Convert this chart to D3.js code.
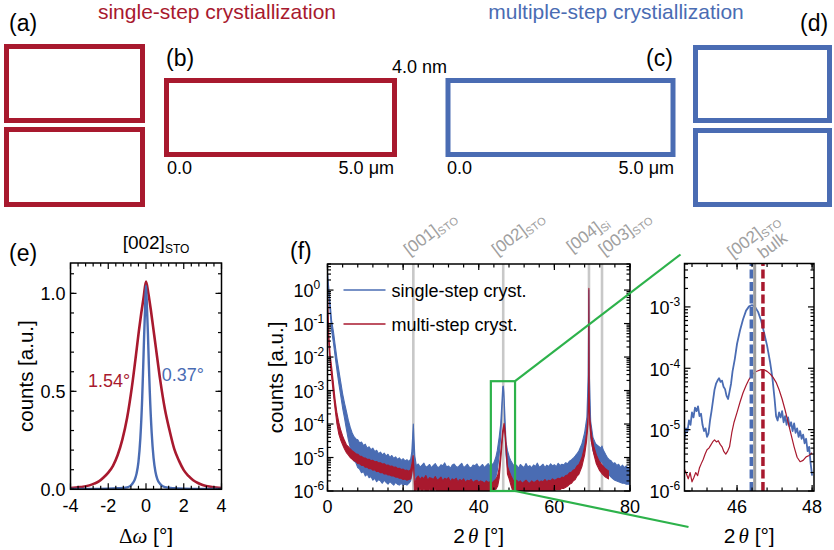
<!DOCTYPE html>
<html><head><meta charset="utf-8">
<script src="https://cdn.jsdelivr.net/npm/d3@7"></script>
<style>
body{margin:0;background:#fff;}
svg{display:block;font-family:"Liberation Sans",Arial,sans-serif;}
</style></head><body>
<svg id="chart" width="834" height="550"></svg>
<script>
// ---------------- DATA ----------------
// (e) rocking curves around [002]STO
const eRedX = [-4,-3.5,-3,-2.75,-2.5,-2.25,-2,-1.75,-1.5,-1.25,-1,-0.75,-0.5,-0.375,-0.25,-0.125,0,0.125,0.25,0.375,0.5,0.75,1,1.25,1.5,1.75,2,2.25,2.5,2.75,3,3.5,4];
const eRed  = [0.006,0.011,0.02,0.029,0.04,0.06,0.085,0.12,0.175,0.255,0.365,0.52,0.71,0.81,0.9,0.98,1.06,1.0,0.92,0.83,0.74,0.56,0.41,0.3,0.205,0.145,0.098,0.068,0.046,0.032,0.022,0.012,0.007];
const eBlueX = [-4,-3,-2,-1.5,-1,-0.75,-0.6,-0.5,-0.4,-0.3,-0.2,-0.15,-0.1,-0.05,0,0.05,0.1,0.15,0.2,0.3,0.4,0.5,0.6,0.75,1,1.5,2,3,4];
const eBlue  = [0.002,0.002,0.003,0.005,0.01,0.025,0.048,0.08,0.14,0.26,0.47,0.62,0.78,0.92,1.04,0.93,0.8,0.64,0.5,0.29,0.16,0.09,0.052,0.027,0.011,0.005,0.003,0.002,0.002];
const eXTicks = [-4,-2,0,2,4];
const eYTicks = [0.0,0.5,1.0];
const eFwhm = ["1.54°","0.37°"];

// (f) 2theta-omega scans: [2theta, lower envelope, upper envelope] of the noisy trace
const fBlue = [
[0.05,2.0,3.0],[0.3,0.9,1.3],[0.7,0.22,0.4],[1.1,0.06,0.12],[1.6,0.025,0.055],[2.0,0.011,0.024],
[2.5,4e-3,9e-3],[3.0,1.6e-3,4e-3],[3.5,7e-4,1.8e-3],[4.0,3e-4,8e-4],[4.5,1.5e-4,4.2e-4],[5.0,7e-5,2.4e-4],
[5.5,3.5e-5,1.3e-4],[6.0,2e-5,8e-5],[6.5,1.2e-5,5.5e-5],[7.0,8e-6,4.2e-5],
[7.5,7e-6,3.6e-5],[8.0,5e-6,3.4e-5],[8.5,4.5e-6,2.7e-5],[9.0,3.5e-6,2.9e-5],[9.5,3.8e-6,2.3e-5],[10.0,2.8e-6,2.5e-5],
[10.5,3.2e-6,1.9e-5],[11.0,2.5e-6,2.1e-5],[11.5,2.7e-6,1.7e-5],[12.0,2.1e-6,1.9e-5],[12.5,2.4e-6,1.5e-5],[13.0,1.9e-6,1.65e-5],
[13.5,2.2e-6,1.3e-5],[14.0,2.0e-6,1.45e-5],[14.5,1.7e-6,1.2e-5],[15.0,2.1e-6,1.35e-5],[15.5,1.8e-6,1.1e-5],[16.0,1.6e-6,1.25e-5],
[16.5,1.9e-6,1.0e-5],[17.0,1.7e-6,1.15e-5],[17.5,1.5e-6,9.4e-6],[18.0,1.8e-6,1.05e-5],[18.5,1.6e-6,8.8e-6],[19.0,1.5e-6,9.8e-6],
[19.5,1.7e-6,8.2e-6],[20.0,1.5e-6,9.2e-6],[20.5,1.6e-6,7.9e-6],[21.0,1.5e-6,8.6e-6],[21.5,1.7e-6,7.6e-6],[22.0,2e-6,9e-6],
[22.3,3e-6,1.5e-5],[22.55,1.5e-5,5e-5],[22.7,8e-5,1.0e-4],[22.85,1.5e-5,4e-5],[23.1,3e-6,1.1e-5],
[23.5,1.6e-6,5.6e-6],[24.0,1.3e-6,6.4e-6],[24.5,1.3e-6,5.2e-6],[25.0,1.3e-6,5.9e-6],[25.5,1.3e-6,6.8e-6],[26.0,1.3e-6,5.1e-6],
[26.5,1.3e-6,5.5e-6],[27.0,1.3e-6,6.2e-6],[27.5,1.3e-6,4.9e-6],[28.0,1.3e-6,5.8e-6],[28.5,1.3e-6,6.6e-6],[29.0,1.3e-6,5.3e-6],
[29.5,1.3e-6,5.0e-6],[30.0,1.3e-6,6.1e-6],[30.5,1.3e-6,5.7e-6],[31.0,1.3e-6,6.9e-6],[31.5,1.3e-6,5.2e-6],[32.0,1.3e-6,5.6e-6],
[32.5,1.3e-6,4.8e-6],[33.0,1.3e-6,6.0e-6],[33.5,1.3e-6,6.4e-6],[34.0,1.3e-6,5.4e-6],[34.5,1.3e-6,5.1e-6],[35.0,1.3e-6,5.9e-6],
[35.5,1.3e-6,6.7e-6],[36.0,1.3e-6,5.0e-6],[36.5,1.3e-6,5.5e-6],[37.0,1.3e-6,6.3e-6],[37.5,1.3e-6,5.2e-6],[38.0,1.3e-6,4.9e-6],
[38.5,1.3e-6,6.0e-6],[39.0,1.3e-6,5.7e-6],[39.5,1.3e-6,6.5e-6],[40.0,1.3e-6,5.1e-6],[40.5,1.3e-6,5.4e-6],[41.0,1.3e-6,6.2e-6],
[41.5,1.3e-6,5.0e-6],[42.0,1.3e-6,5.8e-6],[42.5,1.3e-6,6.6e-6],[43.0,1.3e-6,5.5e-6],[43.5,1.4e-6,6.0e-6],
[44.0,1.5e-6,7e-6],[44.5,2.5e-6,1.0e-5],[44.9,4e-6,1.6e-5],[45.4,1.2e-5,4e-5],
[45.8,4e-5,1e-4],[46.1,2e-4,4e-4],[46.35,9e-4,1.3e-3],[46.5,1.2e-3,1.35e-3],[46.65,6e-4,9e-4],[46.9,8e-5,2e-4],
[47.2,1.2e-5,3e-5],[47.6,5e-6,1.6e-5],[48.1,3e-6,1e-5],[48.5,2.2e-6,8e-6],
[49.0,1.5e-6,6.4e-6],[49.5,1.4e-6,5.3e-6],[50.0,1.4e-6,5.9e-6],[50.5,1.4e-6,4.8e-6],[51.0,1.4e-6,6.2e-6],[51.5,1.4e-6,5.5e-6],
[52.0,1.4e-6,5.0e-6],[52.5,1.4e-6,6.6e-6],[53.0,1.4e-6,5.2e-6],[53.5,1.4e-6,5.7e-6],[54.0,1.4e-6,4.9e-6],[54.5,1.4e-6,6.0e-6],
[55.0,1.4e-6,5.4e-6],[55.5,1.5e-6,6.8e-6],[56.0,1.4e-6,5.1e-6],[56.5,1.5e-6,5.6e-6],[57.0,1.5e-6,6.3e-6],[57.5,1.5e-6,5.0e-6],
[58.0,1.5e-6,5.9e-6],[58.5,1.5e-6,5.4e-6],[59.0,1.6e-6,6.5e-6],[59.5,1.6e-6,5.6e-6],[60.0,1.6e-6,6.1e-6],[60.5,1.6e-6,5.3e-6],
[61.0,1.7e-6,6.7e-6],[61.5,1.7e-6,5.8e-6],[62.0,1.8e-6,6.3e-6],[62.5,1.8e-6,6.0e-6],[63.0,1.9e-6,7.0e-6],[63.5,2e-6,6.5e-6],
[64.0,2.3e-6,7.8e-6],[64.5,2.5e-6,8.5e-6],[65.0,3e-6,9.5e-6],[65.5,3.5e-6,1.1e-5],[66.0,4.2e-6,1.3e-5],[66.5,5e-6,1.6e-5],
[67.3,8e-6,2.6e-5],[68.0,2e-5,5.5e-5],[68.6,6e-5,1.6e-4],[68.95,1e-3,3e-3],[69.1,0.5,1.0],[69.25,1e-3,3e-3],
[69.6,4e-5,1.2e-4],[70.2,1.6e-5,4e-5],[70.9,1e-5,2.6e-5],[71.6,8e-6,2.2e-5],[72.3,7e-6,1.9e-5],[72.6,8e-6,2.2e-5],
[72.9,6e-6,1.7e-5],[73.6,4e-6,1.2e-5],[74.0,3.5e-6,1.0e-5],[74.5,3e-6,8.6e-6],[75.0,2.6e-6,8.0e-6],[75.5,2.3e-6,6.6e-6],
[76.0,2.1e-6,7.0e-6],[76.5,2.0e-6,5.8e-6],[77.0,1.9e-6,6.3e-6],[77.5,1.8e-6,5.1e-6],[78.0,1.7e-6,5.9e-6],[78.5,1.7e-6,5.0e-6],
[79.0,1.6e-6,5.6e-6],[79.5,1.6e-6,4.7e-6],[80.0,1.6e-6,5.3e-6]
];
const fRed = [
[0.05,0.3,0.6],[0.35,0.025,0.045],[0.7,7e-3,1.2e-2],[1.1,2.5e-3,5e-3],[1.6,7e-4,1.5e-3],[2.0,2.8e-4,5.5e-4],
[2.5,1e-4,2.1e-4],[3.0,5e-5,1.1e-4],[3.5,3.3e-5,6.5e-5],[4.0,2.4e-5,4.4e-5],[4.5,1.8e-5,3.2e-5],[5.0,1.4e-5,2.4e-5],
[5.5,1.2e-5,2.1e-5],[6.0,1.0e-5,1.8e-5],[6.5,9e-6,1.6e-5],[7.0,8e-6,1.45e-5],[7.5,7.6e-6,1.3e-5],[8.0,6.6e-6,1.25e-5],
[8.5,6.5e-6,1.1e-5],[9.0,5.8e-6,1.08e-5],[9.5,5.8e-6,9.8e-6],[10,5.1e-6,9.7e-6],[10.5,5.2e-6,8.8e-6],[11,4.6e-6,8.9e-6],
[11.5,4.7e-6,8.1e-6],[12,4.2e-6,8.2e-6],[12.5,4.3e-6,7.5e-6],[13,3.8e-6,7.6e-6],[13.5,3.9e-6,6.9e-6],[14,3.5e-6,7.0e-6],
[14.5,3.6e-6,6.4e-6],[15,3.2e-6,6.5e-6],[15.5,3.3e-6,5.9e-6],[16,3.0e-6,6.0e-6],[16.5,3.0e-6,5.5e-6],[17,2.8e-6,5.6e-6],
[17.5,2.8e-6,5.1e-6],[18,2.6e-6,5.2e-6],[18.5,2.6e-6,4.7e-6],[19,2.4e-6,4.8e-6],[19.5,2.4e-6,4.4e-6],[20,2.2e-6,4.5e-6],
[20.5,2.3e-6,4.1e-6],[21,2.1e-6,4.2e-6],[21.5,2.2e-6,3.9e-6],[22.0,2.3e-6,4.3e-6],[22.4,4e-6,7e-6],[22.65,9e-6,1.15e-5],
[22.85,3e-6,5e-6],[23.0,1.0e-6,1.5e-6],
[23.5,1.1e-6,2.4e-6],[24.0,1.0e-6,2.8e-6],[24.5,1.1e-6,2.2e-6],[25.0,1.0e-6,2.6e-6],[25.5,1.1e-6,2.3e-6],[26.0,1.0e-6,2.9e-6],
[26.5,1.0e-6,2.1e-6],[27.0,1.1e-6,2.5e-6],[27.5,1.0e-6,2.4e-6],[28.0,1.0e-6,2.2e-6],[28.5,1.1e-6,2.7e-6],[29.0,1.0e-6,2.1e-6],
[29.5,1.0e-6,2.3e-6],[30.0,1.0e-6,2.6e-6],[30.5,1.0e-6,2.0e-6],[31.0,1.0e-6,2.4e-6],[31.5,1.0e-6,2.2e-6],[32.0,1.0e-6,2.5e-6],
[32.5,1.0e-6,1.9e-6],[33.0,1.0e-6,2.3e-6],[33.5,1.0e-6,2.1e-6],[34.0,1.0e-6,2.4e-6],[34.5,1.0e-6,1.9e-6],[35.0,1.0e-6,2.2e-6],
[35.5,1.0e-6,2.0e-6],[36.0,1.0e-6,2.3e-6],[36.5,1.0e-6,1.8e-6],[37.0,1.0e-6,2.1e-6],[37.5,1.0e-6,2.0e-6],[38.0,1.0e-6,2.2e-6],
[38.5,1.0e-6,1.8e-6],[39.0,1.0e-6,2.0e-6],[39.5,1.0e-6,2.1e-6],[40.0,1.0e-6,1.8e-6],[40.5,1.0e-6,2.0e-6],[41.0,1.0e-6,1.9e-6],
[41.5,1.0e-6,1.7e-6],[42.0,1.0e-6,2.0e-6],[42.5,1.0e-6,1.8e-6],[43.0,1.0e-6,1.9e-6],[43.5,1.0e-6,1.7e-6],[44.0,1.0e-6,2.0e-6],
[44.5,1.1e-6,2.2e-6],[45.0,1.4e-6,2.9e-6],[45.4,2.4e-6,4.8e-6],[45.9,1.1e-5,1.9e-5],[46.3,4e-5,6e-5],[46.7,9e-5,1.05e-4],
[47.0,4e-5,6e-5],[47.3,1.3e-5,2e-5],[47.6,3.2e-6,5.5e-6],[48.0,2.4e-6,4e-6],[48.5,1.5e-6,2.9e-6],
[49.0,1.0e-6,2.2e-6],[49.5,1.0e-6,1.9e-6],[50.0,1.0e-6,2.1e-6],[50.5,1.0e-6,1.8e-6],[51.0,1.0e-6,2.0e-6],[51.5,1.0e-6,1.7e-6],
[52.0,1.0e-6,1.9e-6],[52.5,1.0e-6,2.1e-6],[53.0,1.0e-6,1.8e-6],[53.5,1.0e-6,1.7e-6],[54.0,1.0e-6,2.0e-6],[54.5,1.0e-6,1.8e-6],
[55.0,1.0e-6,1.9e-6],[55.5,1.0e-6,2.1e-6],[56.0,1.0e-6,1.8e-6],[56.5,1.0e-6,2.0e-6],[57.0,1.0e-6,1.9e-6],[57.5,1.0e-6,2.2e-6],
[58.0,1.0e-6,1.9e-6],[58.5,1.0e-6,2.1e-6],[59.0,1.0e-6,2.0e-6],[59.5,1.0e-6,2.3e-6],[60.0,1.0e-6,2.1e-6],
[60.5,1.1e-6,2.2e-6],[61.0,1.1e-6,2.4e-6],[61.5,1.1e-6,2.3e-6],[62.0,1.2e-6,2.6e-6],[62.5,1.2e-6,2.5e-6],[63.0,1.3e-6,2.9e-6],
[63.5,1.4e-6,3e-6],[64.0,1.6e-6,3.5e-6],[64.5,1.7e-6,3.6e-6],[65.0,2.0e-6,4.2e-6],[65.5,2.2e-6,4.5e-6],[66.0,2.8e-6,5.6e-6],
[66.5,3.2e-6,6.2e-6],[67.3,5.5e-6,1e-5],[68.0,1.2e-5,2.1e-5],[68.5,3e-5,5e-5],[68.9,1e-4,1.6e-4],[69.05,5e-4,1e-3],
[69.12,1.0,1.12],[69.2,5e-4,1e-3],[69.35,1e-4,1.6e-4],[69.8,3e-5,5e-5],[70.4,1.3e-5,2.2e-5],[71.1,6.5e-6,1.2e-5],
[71.9,4.2e-6,7.5e-6],[72.7,3.2e-6,5.8e-6],[73.5,2.6e-6,4.6e-6],[74.3,2.3e-6,4e-6]
];
const fXTicks = [0,20,40,60,80];
const fYExp = [-6,-5,-4,-3,-2,-1,0];
const fPeaks = [22.7, 46.47, 69.15, 72.6];
const fPeakNames = [["[001]","STO"],["[002]","STO"],["[004]","Si"],["[003]","STO"]];
const fLegend = ["single-step cryst.","multi-step cryst."];
const fZoomBox = [43.2, 49.6, 1e-6, 1.9e-3];

// (g) zoom on [002]STO
const gBlueX = [44.60,44.64,44.68,44.72,44.76,44.80,44.84,44.88,44.92,44.96,45.00,45.04,45.08,45.12,45.16,45.20,45.24,45.28,45.32,45.36,45.40,45.44,45.48,45.52,45.56,45.60,45.64,45.68,45.72,45.76,45.80,45.84,45.88,45.94,46.00,46.08,46.16,46.24,46.32,46.40,46.48,46.56,46.64,46.72,46.80,46.88,46.94,47.00,47.04,47.08,47.12,47.16,47.20,47.24,47.28,47.32,47.36,47.40,47.44,47.48,47.52,47.56,47.60,47.64,47.68,47.72,47.76,47.80,47.84,47.88,47.92,47.96,48.00];
const gBlue = [7.1e-6,1.05e-5,9.5e-6,1.41e-5,1.2e-5,1.91e-5,1.58e-5,2.29e-5,2.0e-5,2.4e-5,1.66e-5,1.82e-5,1.2e-5,9.5e-6,1.05e-5,7.6e-6,8.7e-6,1.41e-5,2.0e-5,3.0e-5,4.47e-5,5.6e-5,6.3e-5,6.9e-5,6.0e-5,6.3e-5,5.0e-5,4.57e-5,3.55e-5,3.16e-5,4.17e-5,5.6e-5,8.9e-5,1.41e-4,2.51e-4,4.17e-4,6.3e-4,8.7e-4,1.02e-3,1.07e-3,1.0e-3,8.3e-4,6.0e-4,3.8e-4,2.34e-4,1.26e-4,7.1e-5,3.16e-5,1.66e-5,1.41e-5,1.91e-5,1.58e-5,2.0e-5,1.32e-5,1.66e-5,1.2e-5,1.58e-5,1.12e-5,1.32e-5,9.5e-6,1.26e-5,8.9e-6,1.05e-5,7.6e-6,9.5e-6,7.1e-6,8.3e-6,6.0e-6,7.1e-6,4.47e-6,5.25e-6,2.82e-6,1.78e-6];
const gRedX = [44.60,44.65,44.70,44.75,44.80,44.85,44.90,44.95,45.00,45.05,45.10,45.15,45.20,45.25,45.30,45.35,45.40,45.45,45.50,45.55,45.60,45.65,45.70,45.75,45.80,45.86,45.92,46.00,46.08,46.16,46.24,46.32,46.40,46.48,46.56,46.64,46.72,46.80,46.88,46.96,47.04,47.12,47.20,47.28,47.36,47.44,47.52,47.60,47.68,47.76,47.84,47.92,48.00];
const gRed = [2.24e-6,1.91e-6,1.58e-6,2.0e-6,1.41e-6,1.66e-6,2.0e-6,1.78e-6,2.4e-6,2.82e-6,3.3e-6,4.0e-6,4.7e-6,5.0e-6,5.6e-6,6.3e-6,6.8e-6,6.3e-6,6.6e-6,5.75e-6,5.25e-6,4.37e-6,4.0e-6,4.47e-6,5.25e-6,8.9e-6,1.32e-5,1.91e-5,2.82e-5,4.0e-5,5.25e-5,6.6e-5,7.8e-5,8.7e-5,9.1e-5,9.5e-5,9.5e-5,8.9e-5,8.1e-5,7.1e-5,5.9e-5,4.47e-5,3.16e-5,2.09e-5,1.32e-5,8.3e-6,5.25e-6,3.55e-6,3.0e-6,3.16e-6,3.6e-6,3.8e-6,4.2e-6];
const gXTicks = [46,48];
const gYExp = [-6,-5,-4,-3];
const gBulk = 46.47, gPeakSingle = 46.38, gPeakMulti = 46.69;

// ---------------- STYLE / LAYOUT ----------------
const RED = "#a8192e", BLUE = "#4a6cb3", LGRAY = "#c8c8c8", TGRAY = "#a0a0a0", GREEN = "#2db24b";
const svg = d3.select("#chart");

// top row: image placeholders
const frames = [
  {x:6.5,y:46.5,w:136,h:74,c:RED},{x:6.5,y:129.5,w:136,h:75,c:RED},
  {x:166.5,y:80.5,w:228,h:74,c:RED},{x:448,y:80.5,w:225,h:74,c:BLUE},
  {x:695.5,y:47.5,w:134,h:73,c:BLUE},{x:695.5,y:130.5,w:134,h:74,c:BLUE}];
svg.selectAll("rect.img").data(frames).join("rect").attr("class","img")
  .attr("x",d=>d.x).attr("y",d=>d.y).attr("width",d=>d.w).attr("height",d=>d.h)
  .attr("fill","none").attr("stroke",d=>d.c).attr("stroke-width",5);

function txt(x,y,s,opt={}) {
  return svg.append("text").attr("x",x).attr("y",y).text(s)
    .attr("font-size",opt.size||18).attr("fill",opt.fill||"#000")
    .attr("text-anchor",opt.anchor||"start");
}
txt(217,19,"single-step crystiallization",{size:21,fill:RED,anchor:"middle"});
txt(616,19,"multiple-step crystiallization",{size:21,fill:BLUE,anchor:"middle"});
txt(9,30.5,"(a)",{size:23});
txt(166,65.5,"(b)",{size:23});
txt(646,65.5,"(c)",{size:23});
txt(800,30.5,"(d)",{size:23});
txt(447,73,"4.0 nm",{anchor:"end"});
txt(167,174,"0.0"); txt(394,174,"5.0 μm",{anchor:"end"});
txt(447,174,"0.0"); txt(674,174,"5.0 μm",{anchor:"end"});

// generic inward ticks on all four sides
function boxTicks(g, xs, ys, xMaj, xMin, yMaj, yMin) {
  const [xa,xb] = xs.range(), [ya,yb] = ys.range(); // ya bottom, yb top
  const L = 6, l = 3.5;
  const tg = g.append("g").attr("stroke","#000").attr("stroke-width",1.2);
  const vt = (v,len) => { const x = xs(v);
    tg.append("line").attr("x1",x).attr("x2",x).attr("y1",ya).attr("y2",ya-len);
    tg.append("line").attr("x1",x).attr("x2",x).attr("y1",yb).attr("y2",yb+len); };
  const ht = (v,len) => { const y = ys(v);
    tg.append("line").attr("y1",y).attr("y2",y).attr("x1",xa).attr("x2",xa+len);
    tg.append("line").attr("y1",y).attr("y2",y).attr("x1",xb).attr("x2",xb-len); };
  xMin.forEach(v=>vt(v,l)); xMaj.forEach(v=>vt(v,L));
  yMin.forEach(v=>ht(v,l)); yMaj.forEach(v=>ht(v,L));
  g.append("rect").attr("x",xa).attr("y",yb).attr("width",xb-xa).attr("height",ya-yb)
    .attr("fill","none").attr("stroke","#000").attr("stroke-width",1.5);
}
function clip(id, xs, ys) {
  const [xa,xb] = xs.range(), [ya,yb] = ys.range();
  svg.append("clipPath").attr("id",id).append("rect")
    .attr("x",xa).attr("y",yb).attr("width",xb-xa).attr("height",ya-yb);
  return "url(#"+id+")";
}
function powLabel(g, x, y, exp) {
  const t = g.append("text").attr("x",x).attr("y",y).attr("font-size",18).attr("dy","0.35em");
  t.append("tspan").text("10");
  t.append("tspan").attr("font-size",12).attr("dy",-8).text(exp);
}
const isDecade = v => Math.abs(Math.log10(v)-Math.round(Math.log10(v))) < 1e-6;

// ---------------- (e) ----------------
const eX = d3.scaleLinear().domain([-4,4]).range([70.5,221.5]);
const eY = d3.scaleLinear().domain([0,1.155]).range([489.3,263]);
const ge = svg.append("g");
const ce = clip("ce", eX, eY);
const eLine = d3.line().curve(d3.curveMonotoneX);
ge.append("path").attr("clip-path",ce).attr("fill","none").attr("stroke",RED).attr("stroke-width",2.6)
  .attr("d", eLine(eRedX.map((x,i)=>[eX(x),eY(eRed[i])])));
ge.append("path").attr("clip-path",ce).attr("fill","none").attr("stroke",BLUE).attr("stroke-width",2.4)
  .attr("d", eLine(eBlueX.map((x,i)=>[eX(x),eY(eBlue[i])])));
boxTicks(ge, eX, eY, eXTicks, d3.range(-4,4.001,0.4).filter(v=>Math.abs(v/2-Math.round(v/2))>1e-6),
  eYTicks, d3.range(0,1.151,0.1));
eXTicks.forEach(v=>ge.append("text").attr("x",eX(v)).attr("y",eY(0)+23).attr("text-anchor","middle")
  .attr("font-size",18).text(v));
eYTicks.forEach(v=>ge.append("text").attr("x",eX(-4)-5).attr("y",eY(v)).attr("dy","0.35em")
  .attr("text-anchor","end").attr("font-size",18).text(v.toFixed(1)));
ge.append("text").attr("x",eX(-1.95)).attr("y",eY(0.52)).attr("font-size",18).attr("fill",RED)
  .attr("text-anchor","middle").text(eFwhm[0]);
ge.append("text").attr("x",eX(1.95)).attr("y",eY(0.555)).attr("font-size",18).attr("fill",BLUE)
  .attr("text-anchor","middle").text(eFwhm[1]);
{ const t = ge.append("text").attr("x",eX(0)+10).attr("y",249).attr("text-anchor","middle").attr("font-size",19);
  t.append("tspan").text("[002]"); t.append("tspan").attr("font-size",12).attr("dy",4).text("STO"); }
txt(9,261,"(e)",{size:23});
ge.append("text").attr("transform",`translate(33,${(eY(0)+eY(1.155))/2}) rotate(-90)`)
  .attr("text-anchor","middle").attr("font-size",20.5).text("counts [a.u.]");
{ const t = ge.append("text").attr("x",eX(0)).attr("y",543).attr("text-anchor","middle").attr("font-size",21);
  t.append("tspan").attr("font-family","Liberation Serif, DejaVu Serif, serif").text("Δ");
  t.append("tspan").attr("font-family","Liberation Serif, DejaVu Serif, serif").attr("font-style","italic").text("ω");
  t.append("tspan").text(" [°]"); }

// ---------------- (f) ----------------
const fX = d3.scaleLinear().domain([0,80]).range([327.5,630]);
const fY = d3.scaleLog().domain([1e-6,6]).range([491,264]);
const gf = svg.append("g");
const cf = clip("cf", fX, fY);
const fTop = fY(6);
gf.selectAll("line.pk").data(fPeaks).join("line").attr("class","pk")
  .attr("x1",d=>fX(d)).attr("x2",d=>fX(d)).attr("y1",fY(1e-6)).attr("y2",fTop)
  .attr("stroke",LGRAY).attr("stroke-width",2.6);
const fArea = d3.area().x(d=>fX(d[0])).y0(d=>fY(d[1])).y1(d=>fY(d[2]));
gf.append("path").attr("clip-path",cf).attr("fill",BLUE).attr("stroke",BLUE).attr("stroke-width",1.1)
  .attr("stroke-linejoin","round").attr("d",fArea(fBlue));
gf.append("path").attr("clip-path",cf).attr("fill",RED).attr("stroke",RED).attr("stroke-width",1.1)
  .attr("stroke-linejoin","round").attr("d",fArea(fRed));
boxTicks(gf, fX, fY, fXTicks, d3.range(0,80.1,4), fYExp.map(e=>Math.pow(10,e)),
  fY.ticks().filter(v=>!isDecade(v)));
fXTicks.forEach(v=>gf.append("text").attr("x",fX(v)).attr("y",fY(1e-6)+22).attr("text-anchor","middle")
  .attr("font-size",18).text(v));
fYExp.forEach(e=>powLabel(gf, fX(0)-34, fY(Math.pow(10,e))+1, e===0?"0":("-"+(-e))));
// peak labels
const fLabOff = [[-4,0],[-6,0],[-17,-3],[2,0]];
fPeaks.forEach((p,i)=>{
  const g = gf.append("g").attr("transform",`translate(${fX(p)+fLabOff[i][0]},${fTop-8+fLabOff[i][1]}) rotate(-37)`);
  const t = g.append("text").attr("fill",TGRAY).attr("font-size",17);
  t.append("tspan").text(fPeakNames[i][0]);
  t.append("tspan").attr("font-size",11).attr("dy",3).text(fPeakNames[i][1]);
});
// legend
[[BLUE,fLegend[0]],[RED,fLegend[1]]].forEach((d,i)=>{
  const y = fY(1) + i*34;
  gf.append("line").attr("x1",fX(0)+16).attr("x2",fX(0)+58).attr("y1",y).attr("y2",y)
    .attr("stroke",d[0]).attr("stroke-width",1.6);
  gf.append("text").attr("x",fX(0)+64).attr("y",y).attr("dy","0.36em").attr("font-size",18).text(d[1]);
});
txt(290,259,"(f)",{size:23});
gf.append("text").attr("transform",`translate(283,${(fY(1e-6)+fTop)/2}) rotate(-90)`)
  .attr("text-anchor","middle").attr("font-size",20.5).text("counts [a.u.]");
function twoTheta(g, x) {
  const t = g.append("text").attr("x",x).attr("y",543).attr("text-anchor","middle").attr("font-size",21);
  t.append("tspan").text("2");
  t.append("tspan").attr("font-family","Liberation Serif, DejaVu Serif, serif").attr("font-style","italic").attr("dx",3).text("θ");
  t.append("tspan").text(" [°]");
}
twoTheta(gf, fX(40));

// ---------------- (g) ----------------
const gX = d3.scaleLinear().domain([44.6,48.05]).range([684.5,814]);
const gY = d3.scaleLog().domain([1e-6,5.1e-3]).range([491,263.5]);
const gg = svg.append("g");
const cg = clip("cg", gX, gY);
const gLine = d3.line();
gg.append("path").attr("clip-path",cg).attr("fill","none").attr("stroke",BLUE).attr("stroke-width",1.8)
  .attr("stroke-linejoin","round").attr("d",gLine(gBlueX.map((x,i)=>[gX(x),gY(gBlue[i])])));
gg.append("path").attr("clip-path",cg).attr("fill","none").attr("stroke",RED).attr("stroke-width",1.2)
  .attr("stroke-linejoin","round").attr("d",gLine(gRedX.map((x,i)=>[gX(x),gY(gRed[i])])));
const vline = (x,c,w,dash) => gg.append("line").attr("x1",gX(x)).attr("x2",gX(x))
  .attr("y1",gY(1e-6)).attr("y2",gY(5.1e-3)).attr("stroke",c).attr("stroke-width",w)
  .attr("stroke-dasharray",dash);
vline(gBulk,"#9c9c9c",3,null);
vline(gPeakSingle,BLUE,3.5,"9,3.5");
vline(gPeakMulti,RED,3.5,"9,3.5");
boxTicks(gg, gX, gY, gXTicks, d3.range(44.8,48.05,0.4), gYExp.map(e=>Math.pow(10,e)),
  gY.ticks().filter(v=>!isDecade(v)));
gXTicks.forEach(v=>gg.append("text").attr("x",gX(v)).attr("y",gY(1e-6)+22).attr("text-anchor","middle")
  .attr("font-size",18).text(v));
gYExp.forEach(e=>powLabel(gg, gX(44.6)-35, gY(Math.pow(10,e))+1, "-"+(-e)));
{ const g = gg.append("g").attr("transform",`translate(${gX(gBulk)-22},${gY(5.1e-3)-5}) rotate(-37)`);
  const t = g.append("text").attr("fill",TGRAY).attr("font-size",17);
  t.append("tspan").text("[002]"); t.append("tspan").attr("font-size",11).attr("dy",3).text("STO");
  g.append("text").attr("fill",TGRAY).attr("font-size",17).attr("x",24).attr("y",19).text("bulk"); }
twoTheta(gg, (gX(44.6)+gX(48.05))/2);

// green zoom box + connectors
const bx0 = fX(fZoomBox[0]), bx1 = fX(fZoomBox[1]), by0 = fY(fZoomBox[2]), by1 = fY(fZoomBox[3]);
svg.append("rect").attr("x",bx0).attr("y",by1).attr("width",bx1-bx0).attr("height",by0-by1)
  .attr("fill","none").attr("stroke",GREEN).attr("stroke-width",2.2);
svg.append("line").attr("x1",bx1).attr("y1",by1).attr("x2",gX(44.6)-4).attr("y2",gY(5.1e-3)-9)
  .attr("stroke",GREEN).attr("stroke-width",2.2);
svg.append("line").attr("x1",bx1).attr("y1",by0).attr("x2",gX(44.6)+4).attr("y2",gY(1e-6)+36)
  .attr("stroke",GREEN).attr("stroke-width",2.2);
</script>
</body></html>
